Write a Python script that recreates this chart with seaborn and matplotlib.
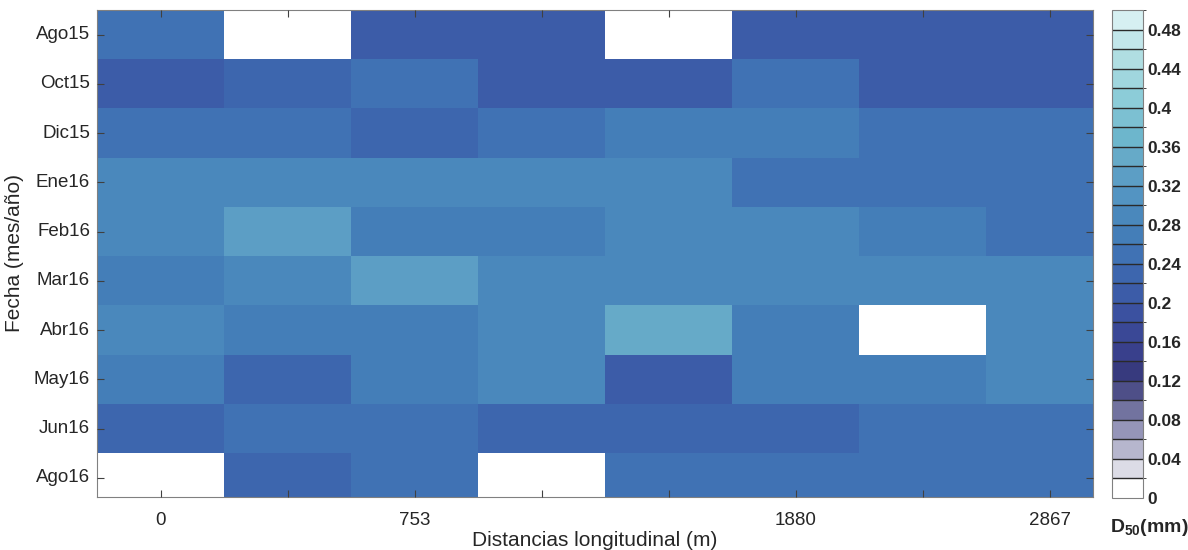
import numpy as np
import pandas as pd
import matplotlib
matplotlib.use("Agg")
import matplotlib.pyplot as plt
from matplotlib.colors import ListedColormap, BoundaryNorm
from matplotlib.ticker import FuncFormatter
import seaborn as sns

sns.set_style("white")
plt.rcParams['font.family'] = ['Liberation Sans', 'DejaVu Sans']
plt.rcParams['mathtext.fontset'] = 'custom'
plt.rcParams['mathtext.rm'] = 'Liberation Sans'
plt.rcParams['mathtext.bf'] = 'Liberation Sans:bold'

# campañas (filas) y estaciones (columnas)
fechas = ["Ago15", "Oct15", "Dic15", "Ene16", "Feb16",
          "Mar16", "Abr16", "May16", "Jun16", "Ago16"]
distancias = ["0", "", "753", "", "", "1880", "", "2867"]

# D50 (mm), nan = sin dato
nan = np.nan
d50_ago15 = [0.25, nan, 0.21, 0.21, nan, 0.21, 0.21, 0.21]
d50_oct15 = [0.21, 0.23, 0.25, 0.21, 0.21, 0.25, 0.21, 0.21]
d50_dic15 = [0.25, 0.25, 0.23, 0.25, 0.27, 0.27, 0.25, 0.25]
d50_ene16 = [0.29, 0.29, 0.29, 0.29, 0.29, 0.25, 0.25, 0.25]
d50_feb16 = [0.29, 0.33, 0.27, 0.27, 0.29, 0.29, 0.27, 0.25]
d50_mar16 = [0.27, 0.29, 0.33, 0.29, 0.29, 0.29, 0.29, 0.29]
d50_abr16 = [0.29, 0.27, 0.27, 0.29, 0.35, 0.27, nan, 0.29]
d50_may16 = [0.27, 0.23, 0.27, 0.29, 0.21, 0.27, 0.27, 0.29]
d50_jun16 = [0.23, 0.25, 0.25, 0.23, 0.23, 0.23, 0.25, 0.25]
d50_ago16 = [nan, 0.23, 0.25, nan, 0.25, 0.25, 0.25, 0.25]

niveles = np.round(np.arange(0, 0.5001, 0.02), 2)
colores = ["#ffffff", "#dcdce6", "#b6b6cd", "#9595b8", "#72739f",
           "#4e4f88", "#373a7e", "#39408c", "#3a4896", "#3b51a0",
           "#3c5ca8", "#3d66ae", "#4072b4", "#447eb8", "#4a88bc",
           "#5394c2", "#5c9ec5", "#66aac8", "#6db6cc", "#7cc0d2",
           "#8cccd8", "#a0d6de", "#b0dee2", "#c2e6ea", "#d6f0f2"]

df = pd.DataFrame([d50_ago15, d50_oct15, d50_dic15, d50_ene16, d50_feb16,
                   d50_mar16, d50_abr16, d50_may16, d50_jun16, d50_ago16],
                  index=fechas, columns=range(len(distancias)))

cmap = ListedColormap(colores)
norm = BoundaryNorm(niveles, cmap.N)

fig = plt.figure(figsize=(11.88, 5.5), dpi=100)
ax = fig.add_axes([97 / 1188, 1 - 497 / 550, 996 / 1188, 487 / 550])
cax = fig.add_axes([1112 / 1188, 1 - 498 / 550, 31 / 1188, 488 / 550])

sns.heatmap(df, ax=ax, cbar_ax=cax, cmap=cmap, norm=norm,
            xticklabels=distancias, yticklabels=fechas,
            cbar_kws=dict(ticks=niveles[::2], drawedges=True))

ax.set_xlim(0, 7.84)
ax.set_ylim(9.89, 0)
ax.set_axisbelow(False)
ax.tick_params(direction='in', length=5, width=0.8, top=True, right=True,
               bottom=True, left=True, color='#404040', labelcolor='#262626',
               labelsize=13.5)
ax.tick_params(axis='x', pad=11)
ax.tick_params(axis='y', pad=5)
plt.setp(ax.get_yticklabels(), rotation=0)
plt.setp(ax.get_xticklabels(), rotation=0)
for s in ax.spines.values():
    s.set_visible(True)
    s.set_color('#808080')
    s.set_linewidth(0.8)

ax.set_xlabel("Distancias longitudinal (m)", fontsize=15, color='#262626', labelpad=1)
ax.set_ylabel("Fecha (mes/año)", fontsize=15, color='#262626', labelpad=7)

cb = ax.collections[0].colorbar
cb.outline.set_visible(True)
cb.outline.set_linewidth(0.8)
cb.outline.set_edgecolor('#808080')
cb.dividers.set_color('#2a2a2a')
cb.dividers.set_linewidth(1.0)
cb.ax.yaxis.set_major_formatter(FuncFormatter(lambda v, p: f"{round(v, 2):g}"))
cax.tick_params(length=0, labelsize=12.5, pad=3)
for t in cax.get_yticklabels():
    t.set_fontweight('bold')

fig.text(1149 / 1188, 1 - 528 / 550, r'$\mathbf{D_{50}}$(mm)', ha='center',
         va='center', fontsize=14, fontweight='bold')

fig.savefig("out.png", dpi=100)
